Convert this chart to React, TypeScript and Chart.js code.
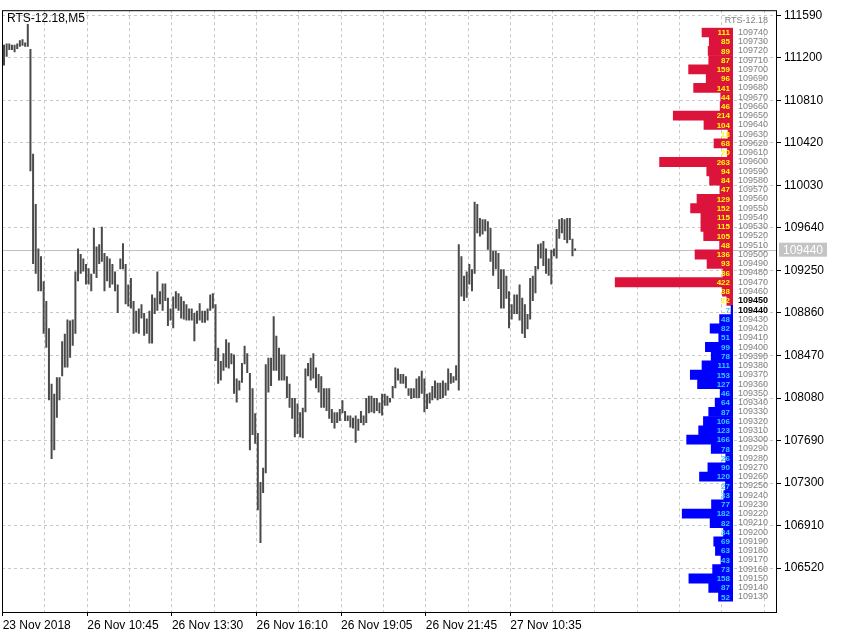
import React, { useEffect, useRef } from 'react';
import { Chart, registerables } from 'chart.js';

Chart.register(...registerables);

const SYMBOL_TITLE = 'RTS-12.18,M5';
const PROFILE_TITLE = 'RTS-12.18';

// OHLC bar ranges (high / low) of the M5 series, left to right
const BAR_HIGHS = [
  111320, 111330, 111330, 111320, 111320, 111330, 111360, 111370, 111340, 111510,
  111280, 110320, 109860, 109450, 109380, 109150, 108970, 108720, 108210, 108120,
  108270, 108270, 108600, 108670, 108800, 108790, 108800, 109240, 109450, 109400,
  109360, 109310, 109270, 109220, 109640, 109470, 109490, 109650, 109410, 109380,
  109360, 109310, 109240, 109120, 109360, 109500, 109310, 109120, 109180, 108970,
  108880, 108900, 108940, 108860, 108810, 108880, 109030, 109000, 109240, 109060,
  109130, 109130, 109000, 108900, 109010, 109060, 109040, 109010, 108970, 108940,
  108900, 108900, 108860, 108880, 108950, 108880, 108880, 108900, 109030, 109040,
  108940, 108540, 108420, 108490, 108620, 108590, 108490, 108480, 108260, 108240,
  108400, 108560, 108490, 108310, 108170, 107940, 107760, 107310, 107440, 108390,
  108450, 108450, 108830, 108650, 108540, 108480, 108480, 108280, 108210, 108080,
  108080, 108030, 107950, 107990, 108350, 108400, 108450, 108490, 108360, 108300,
  108280, 108170, 108170, 108170, 107980, 107950, 107950, 107980, 108060, 107960,
  107920, 107920, 107900, 107920, 107890, 107960, 107920, 108080, 108100, 108100,
  108080, 108080, 108040, 108120, 108120, 108100, 108080, 108190, 108360, 108350,
  108300, 108300, 108280, 108170, 108170, 108170, 108260, 108280, 108330, 108260,
  108120, 108130, 108190, 108240, 108220, 108220, 108240, 108220, 108350, 108310,
  108280, 108380, 109490, 109380, 109200, 109240, 109310, 109260, 109880, 109860,
  109730, 109720, 109720, 109700, 109640, 109430, 109430, 109410, 109260, 109260,
  109200, 109060, 108940, 109030, 109030, 109120, 109000, 108940, 108850, 109180,
  109200, 109290, 109490, 109500, 109520, 109450, 109360, 109440, 109450, 109630,
  109720, 109730, 109720, 109730, 109730, 109540, 109450,
];

const BAR_LOWS = [
  111130, 111210, 111270, 111270, 111250, 111280, 111300, 111310, 111300, 111300,
  110160, 109310, 109220, 109060, 109060, 108670, 108540, 108060, 107520, 107600,
  107900, 108060, 108280, 108360, 108360, 108450, 108560, 108670, 109150, 109220,
  109240, 109120, 109120, 109060, 109220, 109180, 109310, 109330, 109060, 109150,
  109090, 109120, 109060, 108860, 109260, 109260, 108940, 108920, 108900, 108670,
  108680, 108670, 108810, 108650, 108670, 108580, 108580, 108850, 108880, 108940,
  108880, 108970, 108740, 108790, 108720, 108900, 108880, 108810, 108800, 108790,
  108790, 108790, 108600, 108760, 108790, 108770, 108770, 108790, 108880, 108900,
  108420, 108210, 108240, 108330, 108360, 108350, 108390, 108120, 108040, 108150,
  108220, 108390, 108310, 107600, 107740, 107660, 107050, 106750, 107210, 107390,
  108130, 108190, 108330, 108330, 108240, 108240, 108240, 108080, 107990, 107890,
  107720, 107750, 107720, 107710, 107950, 108280, 108240, 108260, 108170, 108130,
  107990, 107990, 107960, 107890, 107850, 107800, 107850, 107870, 107940, 107870,
  107870, 107810, 107800, 107670, 107780, 107850, 107830, 107850, 107940, 107950,
  107940, 107960, 107940, 107920, 108010, 108010, 108040, 108080, 108170, 108240,
  108210, 108210, 108170, 108100, 108070, 108080, 108080, 108080, 108120, 107950,
  107980, 108030, 108060, 108080, 108060, 108070, 108080, 108100, 108150, 108210,
  108220, 108240, 108150, 109010, 108970, 109000, 109120, 109060, 109220, 109590,
  109560, 109580, 109610, 109440, 109330, 109200, 109260, 109080, 108900, 108900,
  108990, 108720, 108800, 108850, 108850, 108790, 108670, 108630, 108710, 108800,
  108970, 109040, 109260, 109360, 109290, 109220, 109200, 109120, 109380, 109360,
  109540, 109590, 109530, 109500, 109530, 109380, 109430,
];

const PRICE_TICKS = [
  106520, 106910, 107300, 107690, 108080, 108470, 108860,
  109250, 109640, 110030, 110420, 110810, 111200, 111590,
];

const TIME_LABELS = [
  '23 Nov 2018', '26 Nov 10:45', '26 Nov 13:30', '26 Nov 16:10',
  '26 Nov 19:05', '26 Nov 21:45', '27 Nov 10:35',
];

const LAST_PRICE = 109440;

// Volume profile rows (top to bottom)
const PROFILE_PRICES = [
  109740, 109730, 109720, 109710, 109700, 109690, 109680, 109670, 109660, 109650,
  109640, 109630, 109620, 109610, 109600, 109590, 109580, 109570, 109560, 109550,
  109540, 109530, 109520, 109510, 109500, 109490, 109480, 109470, 109460, 109450,
  109440, 109430, 109420, 109410, 109400, 109390, 109380, 109370, 109360, 109350,
  109340, 109330, 109320, 109310, 109300, 109290, 109280, 109270, 109260, 109250,
  109240, 109230, 109220, 109210, 109200, 109190, 109180, 109170, 109160, 109150,
  109140, 109130,
];

const PROFILE_VOLUMES = [
  111, 85, 89, 87, 159, 96, 141, 44, 46, 214,
  104, 18, 68, 20, 263, 94, 84, 47, 129, 152,
  115, 115, 105, 48, 136, 93, 36, 422, 38, 22,
  7, 48, 82, 51, 99, 78, 111, 153, 127, 46,
  64, 87, 106, 123, 166, 78, 26, 90, 120, 27,
  33, 77, 182, 82, 34, 69, 63, 43, 73, 158,
  87, 52,
];

const PROFILE_SELL_ROWS = 30; // first rows (above the current price) drawn red
const PROFILE_CURRENT = [109450, 109440];

const FONT = 'Liberation Sans';

export default function App() {
  const mainRef = useRef<HTMLCanvasElement | null>(null);
  const profRef = useRef<HTMLCanvasElement | null>(null);

  useEffect(() => {
    if (!mainRef.current || !profRef.current) return;

    const mtPlugin = {
      id: 'mtDecor',
      beforeDraw(chart: any) {
        const ctx = chart.ctx;
        ctx.save();
        ctx.fillStyle = '#ffffff';
        ctx.fillRect(0, 0, chart.width, chart.height);
        ctx.restore();
      },
      beforeDatasetsDraw(chart: any) {
        const { ctx, chartArea } = chart;
        const y = Math.round(chart.scales.y.getPixelForValue(LAST_PRICE)) + 0.5;
        ctx.save();
        ctx.strokeStyle = '#c0c0c0';
        ctx.lineWidth = 1;
        ctx.beginPath();
        ctx.moveTo(chartArea.left, y);
        ctx.lineTo(chartArea.right, y);
        ctx.stroke();
        ctx.restore();
      },
      afterDraw(chart: any) {
        const { ctx, chartArea } = chart;
        ctx.save();
        ctx.strokeStyle = '#000';
        ctx.lineWidth = 1;
        ctx.strokeRect(chartArea.left + 0.5, chartArea.top + 0.5,
          chartArea.right - chartArea.left, chartArea.bottom - chartArea.top);
        // title
        ctx.fillStyle = '#000';
        ctx.font = `12px "${FONT}"`;
        ctx.textAlign = 'left';
        ctx.textBaseline = 'alphabetic';
        ctx.fillText(SYMBOL_TITLE, 7, 22);
        // last price box
        const y = chart.scales.y.getPixelForValue(LAST_PRICE);
        ctx.fillStyle = '#c4c4c4';
        ctx.fillRect(chartArea.right + 3, y - 7, 48, 14);
        ctx.fillStyle = '#ffffff';
        ctx.textAlign = 'center';
        ctx.textBaseline = 'middle';
        ctx.fillText(String(LAST_PRICE), chartArea.right + 27, y + 0.5);
        ctx.restore();
      },
    };

    const main = new Chart(mainRef.current, {
      type: 'bar',
      data: {
        datasets: [{
          data: BAR_HIGHS.map((h, i) => ({ x: i, y: [BAR_LOWS[i], h] })) as any,
          backgroundColor: '#4a4a4a',
          borderWidth: 0,
          barThickness: 2,
          inflateAmount: 0,
        }],
      },
      options: {
        responsive: false,
        animation: false,
        devicePixelRatio: 1,
        layout: { padding: { left: 2, top: 8, right: 0, bottom: 0 } },
        plugins: { legend: { display: false }, tooltip: { enabled: false } },
        scales: {
          x: {
            type: 'linear',
            offset: false,
            min: -0.756,
            max: 291.98,
            afterBuildTicks: (s: any) => {
              const t: any[] = [];
              for (let k = 0; k <= 18; k++) t.push({ value: -0.5 + 16 * k });
              s.ticks = t;
            },
            afterFit: (s: any) => { s.height = 20; },
            ticks: {
              autoSkip: false,
              maxRotation: 0,
              minRotation: 0,
              align: 'start',
              padding: 2,
              color: '#000',
              font: { family: FONT, size: 12 },
              callback: (_v: any, i: number) => (i % 2 === 0 ? (TIME_LABELS[i / 2] ?? '') : ''),
            },
            grid: {
              offset: false,
              color: '#c8c8c8',
              lineWidth: 1,
              drawTicks: true,
              tickLength: 4,
              tickColor: (c: any) => (c.index % 2 === 0 && c.index / 2 < TIME_LABELS.length ? '#000' : 'rgba(0,0,0,0)'),
              borderDash: [3, 3],
              tickBorderDash: [],
            } as any,
            border: { display: false, dash: [3, 3] },
          },
          y: {
            position: 'right',
            min: 106118,
            max: 111636,
            afterBuildTicks: (s: any) => { s.ticks = PRICE_TICKS.map((v) => ({ value: v })); },
            afterFit: (s: any) => { s.width = 66; },
            ticks: {
              color: '#000',
              padding: 3,
              font: { family: FONT, size: 12 },
              callback: (v: any) => String(v),
            },
            grid: {
              color: '#c8c8c8',
              lineWidth: 1,
              drawTicks: true,
              tickLength: 5,
              tickColor: '#000',
              borderDash: [3, 3],
              tickBorderDash: [],
            } as any,
            border: { display: false, dash: [3, 3] },
          },
        },
      } as any,
      plugins: [mtPlugin],
    });

    const valuePlugin = {
      id: 'profileValues',
      afterDatasetsDraw(chart: any) {
        const ctx = chart.ctx;
        const meta = chart.getDatasetMeta(0);
        ctx.save();
        ctx.font = `bold 8px "${FONT}"`;
        ctx.textAlign = 'right';
        ctx.textBaseline = 'middle';
        meta.data.forEach((el: any, i: number) => {
          const p = el.getProps(['x', 'y', 'base'], true);
          ctx.fillStyle = i < PROFILE_SELL_ROWS ? '#ffff00' : '#33ccff';
          ctx.fillText(String(PROFILE_VOLUMES[i]), p.base - 3, p.y + 0.5);
        });
        ctx.fillStyle = '#808080';
        ctx.font = `9px "${FONT}"`;
        ctx.textBaseline = 'alphabetic';
        ctx.fillText(PROFILE_TITLE, 169, 23);
        ctx.restore();
      },
    };

    const prof = new Chart(profRef.current, {
      type: 'bar',
      data: {
        labels: PROFILE_PRICES.map(String),
        datasets: [{
          data: PROFILE_VOLUMES,
          backgroundColor: (c: any) => (c.dataIndex < PROFILE_SELL_ROWS ? '#dc143c' : '#0000ff'),
          borderWidth: 0,
          categoryPercentage: 1,
          barPercentage: 1,
        }],
      },
      options: {
        indexAxis: 'y',
        responsive: false,
        animation: false,
        devicePixelRatio: 1,
        layout: { padding: { left: 0, top: 27.7, right: 0, bottom: 30.4 } },
        plugins: { legend: { display: false }, tooltip: { enabled: false } },
        scales: {
          x: { type: 'linear', reverse: true, min: 0, max: 480, display: false },
          y: {
            type: 'category',
            position: 'right',
            offset: true,
            afterFit: (s: any) => { s.width = 109; },
            grid: { display: false, drawTicks: false },
            border: { display: false },
            ticks: {
              autoSkip: false,
              padding: 5,
              color: (c: any) => (PROFILE_CURRENT.includes(PROFILE_PRICES[c.index]) ? '#000' : '#808080'),
              font: (c: any) => ({
                family: FONT,
                size: 9,
                weight: PROFILE_CURRENT.includes(PROFILE_PRICES[c.index]) ? 'bold' : 'normal',
              }),
            },
          },
        },
      } as any,
      plugins: [valuePlugin],
    });

    return () => {
      main.destroy();
      prof.destroy();
    };
  }, []);

  return (
    <div style={{ position: 'fixed', left: 0, top: 0, width: 842, height: 632, background: '#fff' }}>
      <canvas ref={mainRef} width={842} height={632}
        style={{ position: 'absolute', left: 0, top: 0, width: 842, height: 632 }} />
      <canvas ref={profRef} width={243} height={632}
        style={{ position: 'absolute', left: 599, top: 0, width: 243, height: 632 }} />
    </div>
  );
}
